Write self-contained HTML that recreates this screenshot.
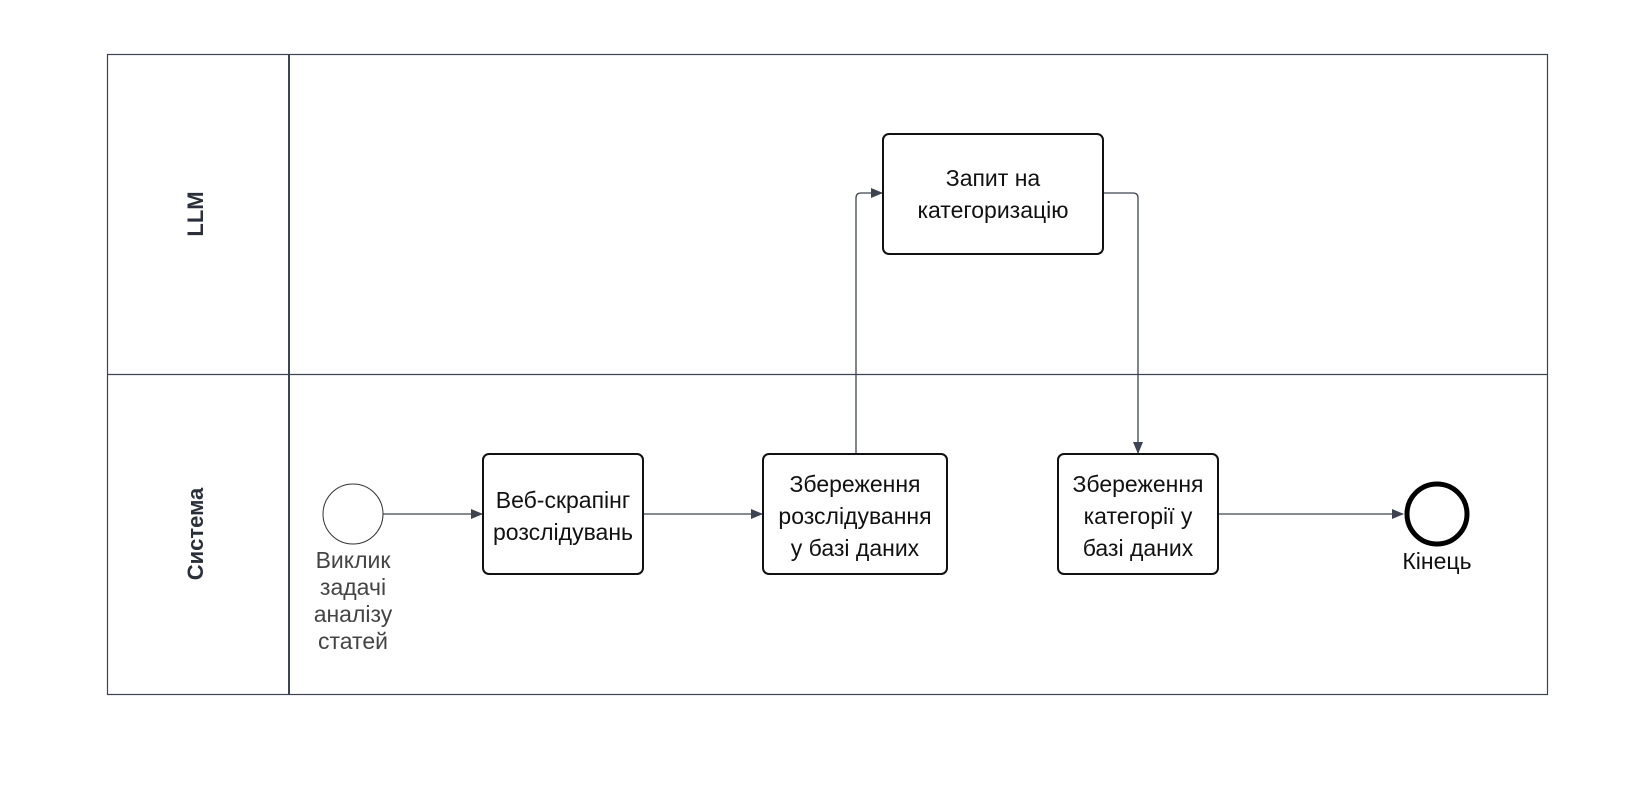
<!DOCTYPE html>
<html><head><meta charset="utf-8"><style>
body{margin:0;background:#fff;}
svg text{font-family:"Liberation Sans","DejaVu Sans",sans-serif;}
</style></head><body>
<svg width="1629" height="780" xmlns="http://www.w3.org/2000/svg">
<defs><marker id="a" markerWidth="12" markerHeight="10" refX="11" refY="5" orient="auto" markerUnits="userSpaceOnUse"><path d="M0,0 L12,5 L0,10 Z" fill="#3d4350"/></marker></defs>
<rect x="107.5" y="54.5" width="1440" height="640" fill="none" stroke="#3d4350" stroke-width="1.2"/>
<line x1="289" y1="54" x2="289" y2="694" stroke="#3d4350" stroke-width="2"/>
<line x1="107" y1="374.5" x2="1547" y2="374.5" stroke="#3d4350" stroke-width="1.2"/>
<text x="197" y="214" transform="rotate(-90 197 214)" text-anchor="middle" dominant-baseline="middle" font-weight="bold" font-size="22" fill="#2a2f3a">LLM</text>
<text x="197" y="534" transform="rotate(-90 197 534)" text-anchor="middle" dominant-baseline="middle" font-weight="bold" font-size="22" fill="#2a2f3a">Система</text>
<g stroke="#3d4350" stroke-width="1.3" fill="none">
<path d="M383,514 H482" marker-end="url(#a)"/>
<path d="M643,514 H762" marker-end="url(#a)"/>
<path d="M856,454 V198 Q856,193 861,193 H882" marker-end="url(#a)"/>
<path d="M1103,193 H1133 Q1138,193 1138,198 V453" marker-end="url(#a)"/>
<path d="M1218,514 H1403" marker-end="url(#a)"/>
</g>
<g fill="#fff" stroke="#111" stroke-width="2">
<rect x="883" y="134" width="220" height="120" rx="6"/>
<rect x="483" y="454" width="160" height="120" rx="6"/>
<rect x="763" y="454" width="184" height="120" rx="6"/>
<rect x="1058" y="454" width="160" height="120" rx="6"/>
</g>
<circle cx="353" cy="514" r="30" fill="#fff" stroke="#333" stroke-width="1"/>
<circle cx="1437" cy="514" r="30" fill="#fff" stroke="#000" stroke-width="5"/>
<g font-size="23" fill="#111" text-anchor="middle">
<text x="993" y="186">Запит на</text>
<text x="993" y="218">категоризацію</text>
<text x="563" y="508">Веб-скрапінг</text>
<text x="563" y="540">розслідувань</text>
<text x="855" y="492">Збереження</text>
<text x="855" y="524">розслідування</text>
<text x="855" y="556">у базі даних</text>
<text x="1138" y="492">Збереження</text>
<text x="1138" y="524">категорії у</text>
<text x="1138" y="556">базі даних</text>
<text x="1437" y="569">Кінець</text>
</g>
<g font-size="23" fill="#444" text-anchor="middle">
<text x="353" y="568">Виклик</text>
<text x="353" y="595">задачі</text>
<text x="353" y="622">аналізу</text>
<text x="353" y="649">статей</text>
</g>
</svg>
</body></html>
